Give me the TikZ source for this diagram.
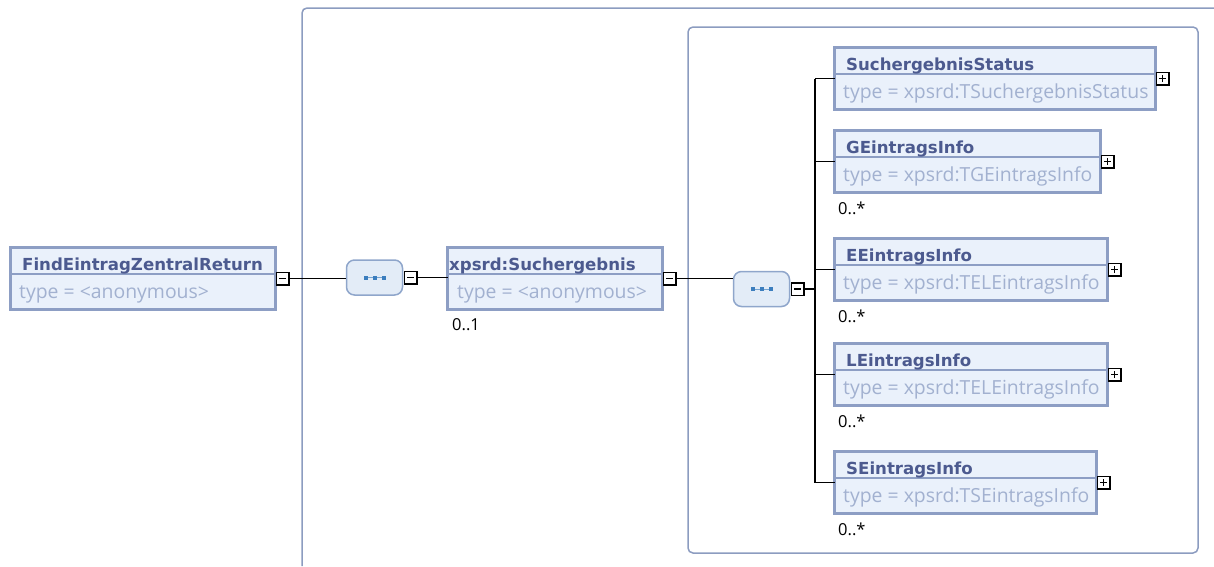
\documentclass[tikz,border=0pt]{standalone}
\usepackage{fontspec}
\setmainfont{Open Sans}
\newfontfamily\titlefont{DejaVu Sans}
\definecolor{xsborder}{RGB}{141,158,196}
\definecolor{xsfill}{RGB}{234,241,251}
\definecolor{xstitle}{RGB}{76,90,143}
\definecolor{xstype}{RGB}{162,177,208}
\definecolor{xsframe}{RGB}{140,156,192}
\definecolor{xsseqfill}{RGB}{227,236,247}
\definecolor{xsseqborder}{RGB}{143,166,203}
\definecolor{xsicon}{RGB}{60,126,190}
\usetikzlibrary{positioning}

\begin{document}
\begin{tikzpicture}[x=1pt,y=-1pt,
  elembox/.style={draw=xsborder,fill=xsfill,line width=3pt,minimum height=62pt,inner sep=0pt,outer sep=0pt,anchor=north west},
  titletext/.style={anchor=base west,inner sep=0pt,text=xstitle,font=\titlefont\bfseries\fontsize{16.6}{20}\selectfont},
  typetext/.style={anchor=base west,inner sep=0pt,text=xstype,font=\fontsize{19.4}{22}\selectfont},
  cardtext/.style={anchor=base west,inner sep=0pt,font=\fontsize{16.5}{19}\selectfont},
  sepline/.style={draw=xsborder,line width=1.5pt},
  seqbox/.style={draw=xsseqborder,fill=xsseqfill,line width=1.5pt,rounded corners=8pt,minimum width=56pt,minimum height=35pt,inner sep=0pt,
    path picture={\coordinate (pc) at (path picture bounding box.center);
      \draw[sharp corners,xsicon!70,line width=0.8pt] ([xshift=-9pt]pc) -- ([xshift=9pt]pc);
      \foreach \dx in {-9,0,9} \fill[sharp corners,xsicon] ([xshift=\dx pt-2pt,yshift=-2pt]pc) rectangle ([xshift=\dx pt+2pt,yshift=2pt]pc);}},
  minusbox/.style={draw=black,fill=white,line width=1.5pt,minimum size=12.5pt,inner sep=0pt,outer sep=0pt,
    path picture={\draw[line width=1.3pt] ([xshift=-3.5pt]path picture bounding box.center) -- ([xshift=3.5pt]path picture bounding box.center);}},
  plusbox/.style={minusbox,
    path picture={\draw[line width=1.3pt] ([xshift=-3.5pt]path picture bounding box.center) -- ([xshift=3.5pt]path picture bounding box.center)
      ([yshift=-3.5pt]path picture bounding box.center) -- ([yshift=3.5pt]path picture bounding box.center);}},
  groupframe/.style={draw=xsframe,line width=1.5pt,rounded corners=5pt},
  conn/.style={draw=black,line width=1.5pt}]
  \useasboundingbox (0,0) rectangle (1214,566);
  % Group frames
  \draw[groupframe] (302,566) -- (302,8) -- (1214,8);
  \draw[groupframe] (688,27) rectangle (1198,553);
  % Root element
  \node[elembox,minimum width=265pt] (root) at (10.5,247.5) {};
  \draw[sepline] ([yshift=-26.5pt]root.north west) -- ([yshift=-26.5pt]root.north east);
  \node[titletext] (rootT) at ([xshift=11.5pt,yshift=-22.5pt]root.north west) {FindEintragZentralReturn};
  \node[typetext] (rootY) at ([xshift=8.5pt,yshift=-50.5pt]root.north west) {type = <anonymous>};
  \node[minusbox,right=1pt of root] (m1) {};
  % Outer sequence
  \node[seqbox] (s1) at (374.5,277.5) {};
  \node[minusbox,right=1pt of s1] (m2) {};
  % Suchergebnis element
  \node[elembox,minimum width=215pt] (erg) at (447.5,247.5) {};
  \draw[sepline] ([yshift=-26.5pt]erg.north west) -- ([yshift=-26.5pt]erg.north east);
  \node[titletext] (ergT) at ([xshift=1.5pt,yshift=-22.5pt]erg.north west) {xpsrd:Suchergebnis};
  \node[typetext] (ergY) at ([xshift=9.5pt,yshift=-50.5pt]erg.north west) {type = <anonymous>};
  \node[cardtext] (ergC) at ([xshift=4.5pt,yshift=-20.5pt]erg.south west) {0..1};
  \node[minusbox,right=1pt of erg] (m3) {};
  % Inner sequence
  \node[seqbox] (s2) at (761.5,289) {};
  \node[minusbox,right=1pt of s2] (m4) {};
  \coordinate (bus) at (815,289);
  % Child elements
  \node[elembox,minimum width=321pt] (c1) at (834.5,47.5) {};
  \draw[sepline] ([yshift=-26.5pt]c1.north west) -- ([yshift=-26.5pt]c1.north east);
  \node[titletext] (c1T) at ([xshift=11.5pt,yshift=-22.5pt]c1.north west) {SuchergebnisStatus};
  \node[typetext] (c1Y) at ([xshift=8.5pt,yshift=-50.5pt]c1.north west) {type = xpsrd:TSuchergebnisStatus};
  \node[plusbox,right=1pt of c1] (p1) {};
  \node[elembox,minimum width=266pt] (c2) at (834.5,130.5) {};
  \draw[sepline] ([yshift=-26.5pt]c2.north west) -- ([yshift=-26.5pt]c2.north east);
  \node[titletext] (c2T) at ([xshift=11.5pt,yshift=-22.5pt]c2.north west) {GEintragsInfo};
  \node[typetext] (c2Y) at ([xshift=8.5pt,yshift=-50.5pt]c2.north west) {type = xpsrd:TGEintragsInfo};
  \node[cardtext] (c2C) at ([xshift=3.5pt,yshift=-21.5pt]c2.south west) {0..*};
  \node[plusbox,right=1pt of c2] (p2) {};
  \node[elembox,minimum width=273pt] (c3) at (834.5,238.5) {};
  \draw[sepline] ([yshift=-26.5pt]c3.north west) -- ([yshift=-26.5pt]c3.north east);
  \node[titletext] (c3T) at ([xshift=11.5pt,yshift=-22.5pt]c3.north west) {EEintragsInfo};
  \node[typetext] (c3Y) at ([xshift=8.5pt,yshift=-50.5pt]c3.north west) {type = xpsrd:TELEintragsInfo};
  \node[cardtext] (c3C) at ([xshift=3.5pt,yshift=-21.5pt]c3.south west) {0..*};
  \node[plusbox,right=1pt of c3] (p3) {};
  \node[elembox,minimum width=273pt] (c4) at (834.5,343.5) {};
  \draw[sepline] ([yshift=-26.5pt]c4.north west) -- ([yshift=-26.5pt]c4.north east);
  \node[titletext] (c4T) at ([xshift=11.5pt,yshift=-22.5pt]c4.north west) {LEintragsInfo};
  \node[typetext] (c4Y) at ([xshift=8.5pt,yshift=-50.5pt]c4.north west) {type = xpsrd:TELEintragsInfo};
  \node[cardtext] (c4C) at ([xshift=3.5pt,yshift=-21.5pt]c4.south west) {0..*};
  \node[plusbox,right=1pt of c4] (p4) {};
  \node[elembox,minimum width=262pt] (c5) at (834.5,451.5) {};
  \draw[sepline] ([yshift=-26.5pt]c5.north west) -- ([yshift=-26.5pt]c5.north east);
  \node[titletext] (c5T) at ([xshift=11.5pt,yshift=-22.5pt]c5.north west) {SEintragsInfo};
  \node[typetext] (c5Y) at ([xshift=8.5pt,yshift=-50.5pt]c5.north west) {type = xpsrd:TSEintragsInfo};
  \node[cardtext] (c5C) at ([xshift=3.5pt,yshift=-21.5pt]c5.south west) {0..*};
  \node[plusbox,right=1pt of c5] (p5) {};
  % Connectors
  \draw[conn] (m1.east) -- (m1.east -| s1.west);
  \draw[conn] (m2.east) -- (m2.east -| erg.west);
  \draw[conn] (m3.east) -- (m3.east -| s2.west);
  \draw[conn] (m4.east) -- (bus);
  \draw[conn] (c1.west -| bus) -- (c5.west -| bus);
  \draw[conn] (c1.west -| bus) -- (c1.west);
  \draw[conn] (c2.west -| bus) -- (c2.west);
  \draw[conn] (c3.west -| bus) -- (c3.west);
  \draw[conn] (c4.west -| bus) -- (c4.west);
  \draw[conn] (c5.west -| bus) -- (c5.west);
\end{tikzpicture}
\end{document}
